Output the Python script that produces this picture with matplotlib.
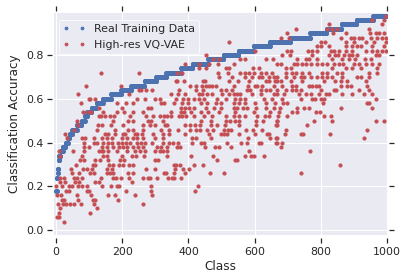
import numpy as np
import matplotlib
matplotlib.use("Agg")
import matplotlib.pyplot as plt
import seaborn as sns

blue_levels = [.18,.24,.26,.28,.32,.34,.36,.38,.40,.42,.44,.46,.48,.50,.52,.54,.56,.58,.60,.62,.64,.66,.68,.70,.72,.74,.76,.78,.80,.82,.84,.86,.88,.90,.92,.94,.96,.98]
blue_counts = [2,2,1,2,2,5,7,8,7,5,8,14,14,10,7,13,15,20,25,30,30,41,35,30,45,35,47,46,46,45,50,61,60,50,45,46,50,41]

r98 = [996]
r96 = [956,991]
r94 = [825,986]
r92 = [724,820,835,850,946]
r90 = [697,836,875,950,966,976,991]
r88 = [681,704,860,890,900,915,926,951,971,986,996]
r86 = [522,800,812,875,900,936,961,996]
r84 = [788,800,825,875,895,910,921,956,991]
r82 = [601,697,709,760,775,790,830,840,855,875,895,936,956,971,986,996]
r80 = [454,684,707,775,825,842,852,870,885,895,910,966,976]
r78 = [475,492,557,572,635,655,729,754,765,790,835,865,885,905,933,951]
r76 = [389,431,462,490,537,669,679,719,729,744,754,770,788,805,820,840,855,867,900,915,936,956,976]
r74 = [432,454,512,522,595,613,694,709,835,875,895,921,969]
r72 = [135,251,366,379,490,520,557,572,582,598,618,633,653,694,714,724,744,765,805,820,850,865,945,971]
r70 = [492,532,572,593,613,623,643,658,669,694,719,739,750,770,790,805,820,835,865,910,921,946]
r68 = [361,366,386,444,450,522,550,582,633,643,663,669,679,709,744,810,842,860,880,936]
r66 = [90,195,406,424,442,452,462,472,482,537,580,601,608,623,658,684,714,724,765,775,785,795,860,880,890,941]
r64 = [251,256,271,291,371,424,444,497,512,532,577,587,618,633,648,669,694,714,724,739,800,840,845,915,946]
r62 = [66,221,346,369,391,432,442,457,472,502,522,537,547,557,593,618,658,669,689,734,754,770,795,815,825,865,895,931,956]
r60 = [98,103,118,243,268,298,313,361,383,399,416,432,447,487,512,542,557,572,628,653,684,739,775,782,800,810,966]
r58 = [75,183,210,231,318,326,356,381,399,437,457,482,497,537,552,572,601,633,663,687,699,808,941,946]
r56 = [128,198,278,288,376,391,401,416,452,477,497,537,547,564,577,603,633,658,677,729,749,764,860,956]
r54 = [81,96,105,143,183,206,233,261,346,376,386,409,437,460,492,540,598,648,674,712,727,785,797]
r52 = [128,135,148,163,175,223,273,293,313,326,336,346,371,379,393,417,447,472,512,537,552,572,608,631,645,671,699,810,830]
r50 = [63,171,218,233,278,288,323,437,467,512,527,542,554,605,625,668,669,780,835,966,991]
r48 = [65,126,138,165,201,263,283,298,328,336,391,406,420,434,467,487,510,552,603,666,669,758]
r46 = [53,123,178,218,233,263,318,341,369,406,424,434,457,474,507,519,530,575,595,621,694,939]
r44 = [28,148,158,178,201,208,238,243,258,293,323,341,391,462,497,507,517,552,601,638,645,691,739,747,827]
r42 = [33,78,88,113,138,153,168,198,215,233,243,263,298,323,412,422,467,580,648,665,669,930]
r40 = [83,113,123,143,158,168,188,198,211,223,243,255,268,291,323,341,353,369,412,437,447,517,558,577,613,618,665,669,684]
r38 = [85,98,138,153,171,191,201,215,233,248,263,305,318,336,366,373,450,480,492,528,679]
r36 = [8,51,83,128,138,143,158,185,215,238,253,268,298,313,323,336,582,767]
r34 = [11,78,143,153,198,228,240,265,334,407,474,570,590,597,628]
r32 = [73,83,118,133,158,193,205,298,308,486,542,547]
r30 = [61,111,118,161,173,191,201,221,233,356,361,374,417,444,857]
r28 = [45,81,93,108,155,168,273,298,359,383,401]
r26 = [49,68,101,113,153,163,171,218,233,325,331,356,389,465,507,739]
r24 = [13,23,53,63,78,135,173,181,195,221,261,278,283,305,338,351,356,377]
r22 = [13,28,58,68,118,128,228]
r20 = [0,18,38,48,65,78,93,138,165,185,191,288,428]
r18 = [31,38,93,98,211,288,419]
r16 = [1,16,63,105,158,178,238,291]
r14 = [18,25,65,111,118,188]
r12 = [5,21,31,41,55,75,115,261]
r10 = [13,123]
r08 = [8,103]
r06 = [3,8]
r04 = [24]

red_levels = [.98,.96,.94,.92,.90,.88,.86,.84,.82,.80,.78,.76,.74,.72,.70,.68,.66,.64,.62,.60,.58,.56,.54,.52,.50,.48,.46,.44,.42,.40,.38,.36,.34,.32,.30,.28,.26,.24,.22,.20,.18,.16,.14,.12,.10,.08,.06,.04]
red_rows = [r98,r96,r94,r92,r90,r88,r86,r84,r82,r80,r78,r76,r74,r72,r70,r68,r66,r64,r62,r60,r58,r56,r54,r52,r50,r48,r46,r44,r42,r40,r38,r36,r34,r32,r30,r28,r26,r24,r22,r20,r18,r16,r14,r12,r10,r08,r06,r04]

x_ticks = [0,200,400,600,800,1000]
y_ticks = [0.0,0.2,0.4,0.6,0.8]

sns.set_theme(style="darkgrid")
W, H = 408, 280
fig = plt.figure(figsize=(W/72, H/72), dpi=72)
ax = fig.add_axes([54.4/W, 1-235/H, (386.9-54.4)/W, (235-13)/H])

blue_acc = np.repeat(blue_levels, blue_counts)
ax.plot(np.arange(len(blue_acc)), blue_acc, '.', color='#4c72b0', markersize=8, label='Real Training Data')
red_x = np.concatenate(red_rows)
red_y = np.repeat(red_levels, [len(r) for r in red_rows])
ax.plot(red_x, red_y, '.', color='#c44e52', markersize=6.3, label='High-res VQ-VAE')

ax.set_xlim(-5.4, 998.8)
ax.set_ylim(-0.0215, 0.992)
ax.set_xticks(x_ticks)
ax.set_yticks(y_ticks)
ax.set_xlabel('Class', fontsize=12, labelpad=3)
ax.set_ylabel('Classification Accuracy', fontsize=12, labelpad=6)
for s in ax.spines.values():
    s.set_position(('outward', 2.5))
    s.set_visible(False)
ax.tick_params(axis='both', which='major', direction='out', length=5, width=1.25, color='.15',
               labelcolor='.15', labelsize=11, top=True, right=True, bottom=True, left=True, pad=3)
ax.tick_params(axis='x', pad=4.5)
leg = ax.legend(loc='upper left', numpoints=2, frameon=True, fontsize=11, facecolor='#eaeaf2',
                edgecolor='white', framealpha=0.8, bbox_to_anchor=(0.003, 0.985), borderaxespad=0.3)
for h in leg.get_lines():
    h.set_markersize(5.5)
fig.savefig('out.png', dpi=72, facecolor='white')
